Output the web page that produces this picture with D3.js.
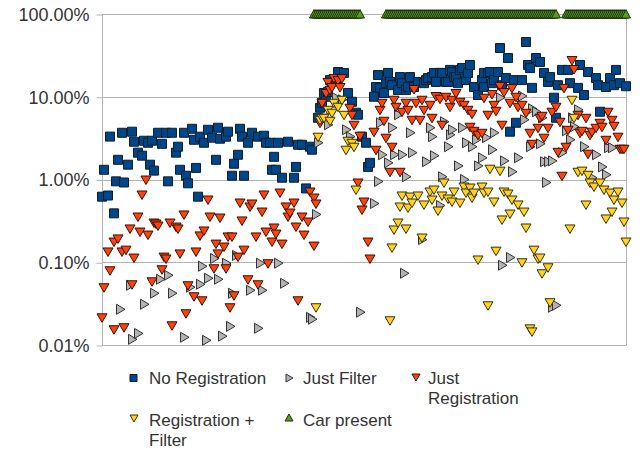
<!DOCTYPE html>
<html><head><meta charset="utf-8">
<script src="https://cdn.jsdelivr.net/npm/d3@7"></script>
<style>body{margin:0;background:#fff}svg{display:block}</style>
</head><body><svg id="c" width="644" height="454"></svg>
<script>
// frame index, percent
const noRegistration = [[0,0.62],[1,1.31],[3,0.64],[4,3.3],[6,0.39],[7,0.95],[8,1.73],[10,3.67],[11,0.92],[13,1.51],
[15,3.78],[16,2.86],[18,2.11],[20,1.94],[21,2.94],[23,2.78],[24,1.51],[25,2.94],[26,1.28],[28,3.67],
[30,2.7],[32,3.67],[33,0.95],[35,3.67],[37,2.11],[38,2.49],[39,1.31],[41,3.67],[42,1.11],[43,0.9],
[45,4.1],[46,3.02],[47,1.38],[48,0.62],[49,3.29],[51,2.78],[53,3.99],[55,3.2],[57,1.73],[58,4.22],
[59,3.11],[62,3.29],[63,3.78],[65,1.11],[66,1.55],[68,1.99],[69,4.1],[70,3.29],[71,1.11],[73,2.78],
[75,3.67],[78,3.29],[81,3.38],[82,2.78],[84,2.78],[85,1.31],[86,1.88],[87,1.31],[88,2.78],[90,1.05],
[93,2.86],[96,1.05],[97,1.42],[98,2.63],[100,2.63],[102,0.78],[104,2.49],[105,2.29],[108,5.57],[109,7.36],
[110,8.46],[111,11.1],[112,10],[113,11.4],[114,15.9],[117,15.9],[118,19.9],[121,19.4],[123,11.1],[125,8.7],
[127,6.41],[128,6.06],[130,3.29],[132,2.78],[133,1.42],[134,1.59],[136,10],[137,13.1],[138,18.3],[139,12.8],
[141,11.1],[142,14.6],[143,19.4],[144,15.1],[145,13.8],[148,12.1],[149,17.3],[150,14.6],[152,12.1],[153,13.1],
[154,17.3],[156,13.1],[158,15.1],[161,14.6],[162,15.9],[163,16.8],[165,17.3],[166,19.4],[167,15.1],[169,19.4],
[170,19.4],[172,15.1],[173,15.1],[174,21.1],[175,19.9],[176,17.3],[177,17.3],[178,14.6],[179,21.1],[180,22.2],
[182,15.9],[183,19.4],[184,24.2],[186,13.1],[188,10.5],[190,15.9],[191,19.4],[191,13.1],[193,19.4],[194,19.9],
[195,14.6],[196,15.9],[198,19.9],[199,38.8],[200,13.8],[202,16.8],[203,29.4],[204,3.78],[206,15.9],[207,4.85],
[210,15.9],[212,45.9],[213,24.2],[214,22.2],[215,12.8],[217,29.4],[219,26.3],[221,19.4],[223,15.1],[224,17.3],
[226,9.73],[227,5.57],[228,13.8],[230,21.1],[233,21.1],[234,14.6],[238,12.8],[239,24.2],[241,10.5],[243,19.9],
[247,16.8],[248,13.8],[249,6.59],[252,13.1],[254,16.8],[256,13.8],[257,21.1],[259,14.6],[262,13.4]];

const justFilter = [[9,0.027],[14,0.0527],[15,0.0117],[18,0.0138],[21,0.0311],[26,0.0422],[29,0.0623],[33,0.0696],[35,0.0422],[41,0.0124],
[44,0.0499],[49,0.0542],[50,0.0895],[52,0.0114],[53,0.0641],[56,0.111],[58,0.0623],[60,0.0128],[62,0.0973],[64,0.0168],
[65,0.0422],[67,0.121],[74,0.0459],[78,0.0159],[79,0.0973],[80,0.0459],[88,0.0973],[91,0.0557],[104,0.0216],[105,0.0205],
[107,0.378],[108,2.78],[113,4.59],[117,9.73],[120,9.2],[122,3.99],[124,3.29],[129,0.0249],[136,0.513],[138,0.946],
[139,4.85],[140,1.99],[143,1.59],[145,4.22],[146,1.99],[148,6.06],[150,1.99],[151,0.0736],[152,1.08],[154,3.67],
[155,2.11],[160,0.188],[162,1.64],[164,4.22],[165,3.29],[166,1.94],[169,0.485],[170,1.08],[171,4.99],[174,3.47],
[173,2.49],[175,3.99],[178,1.46],[180,4.22],[181,1.0],[182,2.78],[185,2.49],[187,3.02],[188,1.46],[190,1.83],
[192,3.2],[195,2.29],[196,3.67],[199,9.73],[200,0.092],[201,1.68],[204,0.114],[205,1.24],[208,1.83],[210,10.2],
[211,5.27],[215,7.16],[214,2.49],[217,6.59],[220,5.57],[219,2.7],[221,1.64],[222,0.92],[223,1.64],[225,1.68],
[225,0.0286],[227,0.0302],[230,2.11],[232,3.88],[235,5.57],[234,3.02],[236,4.34],[238,6.96],[241,2.49],[245,1.05],
[247,1.99],[250,1.42],[252,1.14],[253,2.42],[255,2.42]];

const justRegistration = [[0,0.0216],[1,0.0499],[3,0.135],[4,0.08],[6,0.0155],[6,0.178],[8,0.194],[10,0.135],[11,0.0164],[12,0.142],
[14,0.256],[15,0.0542],[16,0.114],[18,0.357],[19,0.235],[20,0.659],[22,1.0],[23,0.216],[25,0.0589],[26,0.302],
[27,0.294],[28,0.278],[30,0.0823],[31,0.117],[32,0.111],[34,0.302],[35,0.0173],[37,0.27],[38,0.256],[39,0.128],
[41,0.378],[42,0.0242],[43,0.0527],[46,0.0388],[47,0.135],[49,0.211],[50,0.0347],[51,0.242],[53,0.573],[54,0.357],
[56,0.0846],[57,0.168],[58,0.128],[59,0.347],[61,0.155],[62,0.0846],[63,0.205],[65,0.205],[64,0.0286],[66,0.0399],
[68,0.117],[69,0.527],[70,0.32],[71,0.142],[73,0.0623],[74,0.472],[75,0.513],[77,0.205],[78,0.0542],[80,0.41],
[81,0.659],[82,0.235],[83,0.0973],[85,0.178],[86,0.263],[87,0.222],[89,0.696],[90,0.168],[92,0.472],[93,0.357],
[94,0.399],[96,0.527],[97,0.27],[98,0.0347],[100,0.357],[101,0.216],[103,0.311],[104,0.716],[106,0.606],[106,0.159],
[107,0.513],[109,4.85],[110,8.46],[112,11.1],[113,15.1],[114,12.1],[115,13.1],[116,16.8],[118,15.9],[119,13.1],
[120,16.8],[124,7.36],[125,6.06],[126,4.59],[129,3.38],[128,0.92],[130,0.434],[131,0.542],[133,0.178],[134,0.111],
[136,3.78],[137,2.29],[139,6.96],[140,8.46],[141,5.13],[142,3.2],[144,1.24],[145,2.49],[146,9.2],[147,7.57],
[149,1.24],[150,6.59],[152,8.46],[153,6.96],[155,5.27],[156,12.4],[157,8.46],[159,5.27],[160,9.2],[161,6.96],
[164,8.0],[165,5.57],[167,10.2],[169,9.46],[170,4.59],[172,10.0],[174,7.57],[175,9.2],[177,11.1],[179,8.7],
[181,8.0],[183,6.96],[184,4.34],[185,6.23],[186,3.88],[188,3.47],[190,3.67],[191,9.73],[193,6.06],[195,10.8],
[196,8.0],[197,6.77],[199,13.5],[200,4.59],[201,11.4],[204,8.46],[205,12.8],[207,10.0],[208,7.57],[210,8.0],
[212,6.41],[214,3.67],[215,2.7],[218,4.22],[219,5.57],[220,5.89],[221,3.2],[223,4.22],[225,6.59],[227,7.57],
[228,2.16],[229,4.99],[230,1.11],[231,12.8],[232,2.49],[233,3.99],[235,27.8],[236,21.6],[238,6.06],[239,3.67],
[240,3.88],[242,5.57],[243,2.05],[244,3.47],[245,3.78],[247,4.22],[249,4.85],[250,4.34],[252,3.02],[253,6.59],
[255,5.27],[256,4.46],[258,3.29],[259,2.35],[260,2.35],[261,2.35]];

const registrationFilter = [[107,0.0286],[108,3.29],[109,5.27],[110,5.57],[111,5.57],[113,6.96],[114,5.13],[115,6.41],[116,8.46],[118,7.57],
[120,9.2],[121,6.06],[122,2.29],[123,2.94],[125,2.78],[126,2.49],[127,0.757],[144,0.0199],[145,0.151],[146,0.249],
[148,0.302],[149,0.472],[150,0.641],[152,0.256],[153,0.459],[154,0.623],[155,0.527],[158,0.641],[160,0.199],[161,0.499],
[164,0.716],[165,0.573],[166,0.757],[168,0.422],[170,0.641],[171,0.92],[173,0.589],[175,0.542],[176,0.716],[179,0.527],
[181,0.823],[182,0.696],[184,0.8],[185,0.606],[186,0.696],[188,0.108],[190,0.823],[191,0.696],[193,0.716],[193,0.0302],
[194,1.35],[196,0.542],[197,0.138],[199,1.28],[200,0.329],[201,0.716],[203,0.677],[204,0.388],[205,0.573],[208,0.499],
[210,0.1],[211,0.41],[212,0.263],[214,0.0159],[215,0.0146],[216,0.142],[218,0.111],[219,0.114],[220,0.0736],[223,0.087],
[224,0.0329],[234,0.256],[235,9.2],[236,5.57],[238,1.24],[240,1.28],[243,1.14],[242,0.499],[244,0.92],[246,0.823],
[249,0.92],[251,0.757],[252,0.338],[254,0.696],[255,0.41],[256,0.573],[258,0.716],[260,0.527],[261,0.311],[262,0.178]];

const carPresentFrames = [106,107,108,109,110,111,112,113,114,115,116,117,118,119,120,121,122,123,124,125,126,127,128,129,
142,143,144,145,146,147,148,149,150,151,152,153,154,155,156,157,158,159,160,161,162,163,164,165,166,167,168,169,170,
171,172,173,174,175,176,177,178,179,180,181,182,183,184,185,186,187,188,189,190,191,192,193,194,195,196,197,198,199,
200,201,202,203,204,205,206,207,208,209,210,211,212,213,214,215,216,217,218,219,220,221,222,223,224,225,226,227,
232,233,234,235,236,237,238,239,240,241,242,243,244,245,246,247,248,249,250,251,252,253,254,255,256,257,258,259,260,261,262];
const carPresentValue = 100;

const yTicks = [0.01, 0.1, 1, 10, 100];
const seriesNames = ["No Registration","Just Filter","Just Registration","Registration + Filter","Car present"];

const svg = d3.select("#c");
const x = d3.scaleLinear().domain([0, 262]).range([102, 626]);
const y = d3.scaleLog().domain([0.01, 100]).range([345, 14]);

// grid
svg.append("g").selectAll("line").data(yTicks).join("line")
  .attr("x1", 102).attr("x2", 626)
  .attr("y1", d => Math.round(y(d)) + 0.5).attr("y2", d => Math.round(y(d)) + 0.5)
  .attr("stroke", "#b3b3b3");
svg.append("line").attr("x1", 102.5).attr("x2", 102.5).attr("y1", 14).attr("y2", 345.5).attr("stroke", "#b3b3b3");
svg.append("line").attr("x1", 626.5).attr("x2", 626.5).attr("y1", 14).attr("y2", 345.5).attr("stroke", "#b3b3b3");

// y axis
const ax = svg.append("g").attr("transform", "translate(102.5,0.5)")
  .call(d3.axisLeft(y).tickValues(yTicks).tickSize(6).tickPadding(7)
    .tickFormat(d => d.toFixed(2) + "%"));
ax.select(".domain").remove();
ax.selectAll(".tick line").attr("stroke", "#b3b3b3");
ax.selectAll(".tick text").attr("fill", "#333").style("font-family", "'Liberation Sans', Arial, sans-serif").style("font-size", "18px");

const shapes = {
  square: "M-4.5,-4.5H4.5V4.5H-4.5Z",
  down: "M-5,-3.5L5,-3.5L0,5Z",
  right: "M-3.5,-5L5,0L-3.5,5Z",
  up: "M0,-4.5L4.5,4L-4.5,4Z"
};
function plot(data, shape, fill, stroke) {
  svg.append("g").selectAll("path").data(data).join("path")
    .attr("d", shapes[shape])
    .attr("transform", d => `translate(${x(d[0])},${y(d[1])})`)
    .attr("fill", fill).attr("stroke", stroke).attr("stroke-width", 1);
}
plot(noRegistration, "square", "#004586", "#0c1f33");
plot(justFilter, "right", "#b3b3b3", "#333");
plot(justRegistration, "down", "#ff420e", "#3a1000");
plot(registrationFilter, "down", "#ffd320", "#3a3000");
plot(carPresentFrames.map(f => [f, carPresentValue]), "up", "#579d1c", "#1b3008");

// legend
const lg = [
  {name: seriesNames[0], shape: "square", fill: "#004586", stroke: "#0c1f33", sx: 133.5, sy: 378, tx: 149, ty: 384},
  {name: seriesNames[1], shape: "right", fill: "#b3b3b3", stroke: "#333", sx: 289, sy: 378, tx: 303, ty: 384},
  {name: seriesNames[2], shape: "down", fill: "#ff420e", stroke: "#3a1000", sx: 416, sy: 377, tx: 428, ty: 384},
  {name: seriesNames[3], shape: "down", fill: "#ffd320", stroke: "#3a3000", sx: 134, sy: 418, tx: 149, ty: 426},
  {name: seriesNames[4], shape: "up", fill: "#579d1c", stroke: "#1b3008", sx: 289, sy: 418, tx: 303, ty: 426}
];
const lgSmall = {square:"M-3.5,-3.5H3.5V3.5H-3.5Z", down:"M-4,-3L4,-3L0,4Z", right:"M-3,-4L4,0L-3,4Z", up:"M0,-4L4,3L-4,3Z"};
lg.forEach(l => {
  svg.append("path").attr("d", lgSmall[l.shape]).attr("transform", `translate(${l.sx},${l.sy})`)
    .attr("fill", l.fill).attr("stroke", l.stroke);
  const words = l.name === "Just Registration" ? ["Just", "Registration"] :
                l.name === "Registration + Filter" ? ["Registration +", "Filter"] : [l.name];
  const t = svg.append("text").attr("x", l.tx).attr("y", l.ty).attr("fill", "#333")
    .style("font-family", "'Liberation Sans', Arial, sans-serif").style("font-size", "17px");
  words.forEach((w, i) => t.append("tspan").attr("x", l.tx).attr("dy", i === 0 ? 0 : 20).text(w));
});
</script></body></html>
